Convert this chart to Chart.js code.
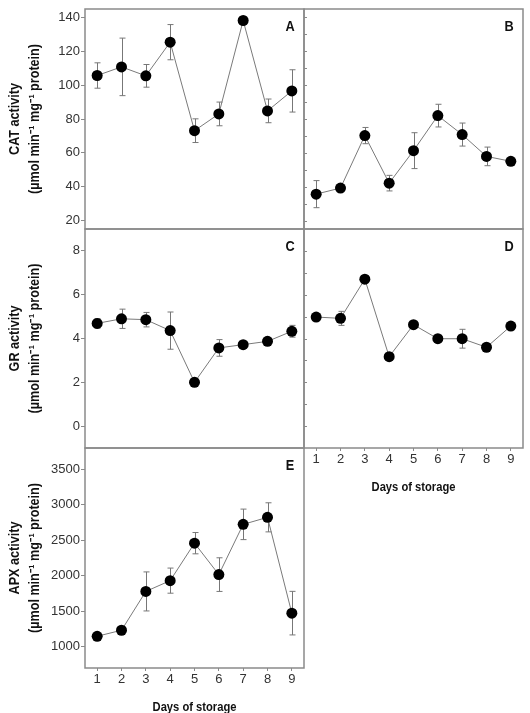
<!DOCTYPE html>
<html>
<head>
<meta charset="utf-8">
<script src="https://cdn.jsdelivr.net/npm/chart.js@4/dist/chart.umd.min.js"></script>
<style>
  html, body { margin: 0; padding: 0; background: #fff; }
  #wrap { position: relative; width: 530px; height: 713px; }
  #wrap canvas { position: absolute; left: 0; top: 0; }
</style>
</head>
<body>
<div id="wrap">
  <canvas id="cA" width="530" height="713"></canvas>
  <canvas id="cB" width="530" height="713"></canvas>
  <canvas id="cC" width="530" height="713"></canvas>
  <canvas id="cD" width="530" height="713"></canvas>
  <canvas id="cE" width="530" height="713"></canvas>
</div>
<script>
/* Antioxidant enzyme activity vs days of storage */

const days = [1, 2, 3, 4, 5, 6, 7, 8, 9];

// CAT
const catA    = [105.7, 110.8, 105.5, 125.4, 73.1, 83.0, 138.2, 84.8, 96.6];
const catAErr = [7.5, 17, 6.7, 10.4, 7, 7, 0, 7, 12.5];
const catB    = [35.6, 39.2, 70.2, 42.1, 61.3, 82.0, 70.8, 57.9, 55.0];
const catBErr = [8, 0, 4.8, 4.6, 10.6, 6.7, 6.8, 5.5, 0];
// GR
const grC     = [4.69, 4.90, 4.86, 4.36, 2.00, 3.57, 3.72, 3.87, 4.33];
const grCErr  = [0.22, 0.44, 0.33, 0.85, 0, 0.38, 0, 0, 0.27];
const grD     = [4.98, 4.92, 6.71, 3.17, 4.63, 3.99, 3.99, 3.60, 4.57];
const grDErr  = [0, 0.32, 0, 0, 0, 0, 0.43, 0, 0];
// APX
const apxE    = [1147, 1232, 1779, 1931, 2459, 2016, 2724, 2823, 1473];
const apxEErr = [0, 0, 275, 177, 150, 237, 215, 205, 307];

// tick values
const catTicks = [20, 40, 60, 80, 100, 120, 140];
const catMinor = [20, 30, 40, 50, 60, 70, 80, 90, 100, 110, 120, 130, 140];
const grTicks  = [0, 2, 4, 6, 8];
const grMinor  = [0, 1, 2, 3, 4, 5, 6, 7, 8];
const apxTicks = [1000, 1500, 2000, 2500, 3000, 3500];

const unitLine = '(\u00b5mol min\u207b\u00b9 mg\u207b\u00b9 protein)';
const FONT = '"Liberation Sans", Arial, sans-serif';
const GREY = '#8a8a8a';

// condensed text helper (the original uses a narrow face)
function narrowText(ctx, txt, x, y, squeeze) {
  ctx.save();
  ctx.translate(x, y);
  ctx.scale(squeeze, 1);
  ctx.fillText(txt, 0, 0);
  ctx.restore();
}

// ── panel plugin: error bars, frame, letter, titles ──
const panelPlugin = {
  id: 'panel',
  beforeDatasetsDraw(chart) {
    const ctx = chart.ctx, ys = chart.scales.y, xs = chart.scales.x;
    chart.data.datasets.forEach(ds => {
      (ds.errs || []).forEach((e, i) => {
        if (!e) return;
        const pt = ds.data[i];
        const x = Math.round(xs.getPixelForValue(pt.x)) + 0.5;
        const y1 = ys.getPixelForValue(pt.y + e), y2 = ys.getPixelForValue(pt.y - e);
        ctx.save();
        ctx.strokeStyle = '#777'; ctx.lineWidth = 1;
        ctx.beginPath();
        ctx.moveTo(x, y1); ctx.lineTo(x, y2);
        ctx.moveTo(x - 3, y1); ctx.lineTo(x + 3, y1);
        ctx.moveTo(x - 3, y2); ctx.lineTo(x + 3, y2);
        ctx.stroke();
        ctx.restore();
      });
    });
  },
  afterDraw(chart, args, o) {
    const ctx = chart.ctx, a = chart.chartArea, ys = chart.scales.y;
    ctx.save();
    // inner ticks (right-hand panels)
    if (o.inner) {
      ctx.strokeStyle = GREY; ctx.lineWidth = 1;
      ctx.beginPath();
      o.inner.forEach(v => {
        const y = Math.round(ys.getPixelForValue(v)) + 0.5;
        ctx.moveTo(a.left, y); ctx.lineTo(a.left + 3, y);
      });
      ctx.stroke();
    }
    // frame
    ctx.strokeStyle = GREY; ctx.lineWidth = 1.5;
    ctx.strokeRect(a.left, a.top, a.right - a.left, a.bottom - a.top);
    // panel letter
    ctx.fillStyle = '#111';
    ctx.font = 'bold 15px ' + FONT;
    ctx.textAlign = 'center'; ctx.textBaseline = 'middle';
    narrowText(ctx, o.letter, a.right - 14, a.top + 18, 0.85);
    // y title, two rotated lines
    if (o.title) {
      const cy = (a.top + a.bottom) / 2;
      ctx.font = 'bold 14px ' + FONT;
      [[o.title[0], 15], [o.title[1], 35]].forEach(([t, x]) => {
        ctx.save();
        ctx.translate(x, cy);
        ctx.rotate(-Math.PI / 2);
        narrowText(ctx, t, 0, 0, 0.9);
        ctx.restore();
      });
    }
    // x title
    if (o.xTitle) {
      ctx.font = 'bold 13px ' + FONT;
      narrowText(ctx, o.xTitle, (a.left + a.right) / 2, a.bottom + 39, 0.86);
    }
    ctx.restore();
  }
};

function makePanel(id, o) {
  return new Chart(document.getElementById(id), {
    type: 'line',
    data: {
      datasets: [{
        data: days.map((d, i) => ({ x: d, y: o.values[i] })),
        errs: o.errs,
        borderColor: '#7a7a7a', borderWidth: 1, tension: 0,
        pointRadius: 5.5, pointBackgroundColor: '#000', pointBorderColor: '#000', pointBorderWidth: 0
      }]
    },
    options: {
      responsive: false, animation: false,
      layout: { padding: o.pad },
      plugins: {
        legend: { display: false }, tooltip: { enabled: false },
        panel: { letter: o.letter, title: o.title, xTitle: o.xTitle, inner: o.inner }
      },
      scales: {
        x: {
          type: 'linear', min: 0.5, max: 9.5, display: !!o.xTitle,
          afterBuildTicks: s => { s.ticks = days.map(v => ({ value: v })); },
          afterFit: s => { s.height = o.xTitle ? 22 : 0; },
          grid: { drawOnChartArea: false, drawTicks: true, tickLength: 3, color: GREY },
          border: { display: false },
          ticks: { font: { family: FONT, size: 13 }, color: '#333', padding: 1, callback: v => String(v) }
        },
        y: {
          min: o.min, max: o.max, display: !!o.ticks,
          afterBuildTicks: s => { if (o.ticks) s.ticks = o.ticks.map(v => ({ value: v })); },
          afterFit: s => { s.width = o.ticks ? 45 : 0; },
          grid: { drawOnChartArea: false, drawTicks: true, tickLength: 4, color: GREY },
          border: { display: false },
          ticks: { font: { family: FONT, size: 13 }, color: '#333', padding: 1, callback: v => String(v) }
        }
      }
    },
    plugins: [panelPlugin]
  });
}

makePanel('cA', { values: catA, errs: catAErr, min: 15, max: 145, ticks: catTicks, letter: 'A',
  title: ['CAT activity', unitLine], pad: { left: 40, top: 9, right: 226, bottom: 484 } });
makePanel('cB', { values: catB, errs: catBErr, min: 15, max: 145, inner: catMinor, letter: 'B',
  pad: { left: 304, top: 9, right: 7, bottom: 484 } });
makePanel('cC', { values: grC, errs: grCErr, min: -1, max: 9, ticks: grTicks, letter: 'C',
  title: ['GR activity', unitLine], pad: { left: 40, top: 229, right: 226, bottom: 265 } });
makePanel('cD', { values: grD, errs: grDErr, min: -1, max: 9, inner: grMinor, letter: 'D',
  xTitle: 'Days of storage', pad: { left: 304, top: 229, right: 7, bottom: 243 } });
makePanel('cE', { values: apxE, errs: apxEErr, min: 700, max: 3800, ticks: apxTicks, letter: 'E',
  title: ['APX activity', unitLine], xTitle: 'Days of storage', pad: { left: 40, top: 448, right: 226, bottom: 23 } });
</script>
</body>
</html>
